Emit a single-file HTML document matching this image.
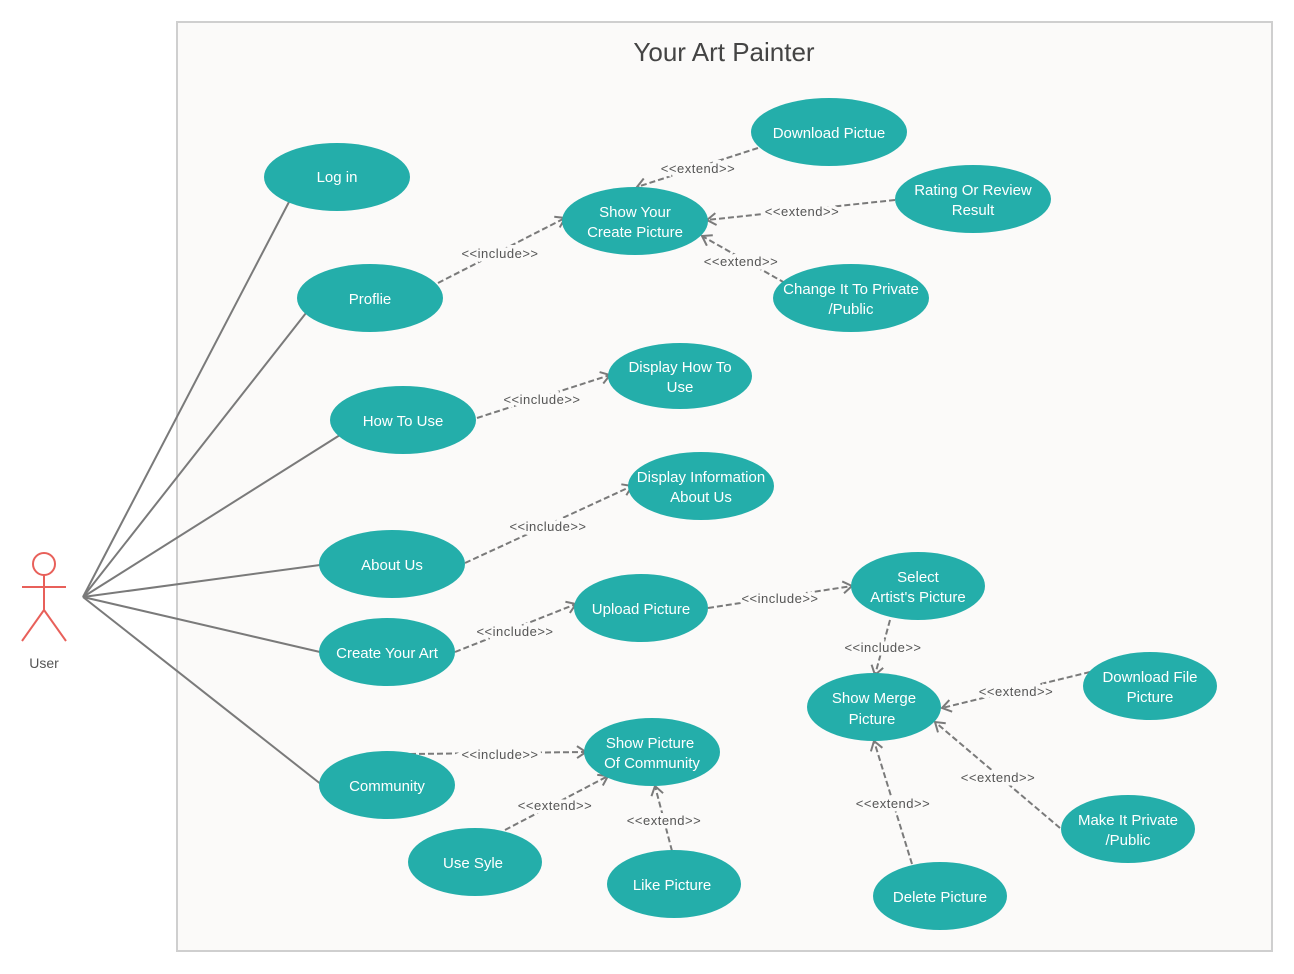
<!DOCTYPE html>
<html><head><meta charset="utf-8">
<style>
html,body{margin:0;padding:0;background:#fff;}
svg{display:block;font-family:"Liberation Sans",sans-serif;}
.uc ellipse{fill:#24aeaa;}
.uc text{fill:#fff;font-size:15px;text-anchor:middle;}
.lbl{font-size:13px;fill:#555;text-anchor:middle;paint-order:stroke;stroke:#fbfaf9;stroke-width:7px;letter-spacing:0.5px;}
.dash{stroke:#7a7a7a;stroke-width:2;stroke-dasharray:6,3;fill:none;}
.assoc{stroke:#7a7a7a;stroke-width:2;fill:none;}
</style></head>
<body>
<svg width="1294" height="974" viewBox="0 0 1294 974">
<defs>
<marker id="arr" markerWidth="14" markerHeight="14" refX="11" refY="7" orient="auto" markerUnits="userSpaceOnUse">
<polyline points="2,1 11,7 2,13" fill="none" stroke="#7a7a7a" stroke-width="2"/>
</marker>
</defs>
<rect x="177" y="22" width="1095" height="929" fill="#fbfaf9" stroke="#cfcfcf" stroke-width="2"/>
<text x="724" y="61" font-size="26" fill="#444" text-anchor="middle">Your Art Painter</text>

<g stroke="#e8605a" stroke-width="2" fill="none">
<circle cx="44" cy="564" r="11"/>
<line x1="44" y1="575" x2="44" y2="610"/>
<line x1="22" y1="587" x2="66" y2="587"/>
<line x1="44" y1="610" x2="22" y2="641"/>
<line x1="44" y1="610" x2="66" y2="641"/>
</g>
<text x="44" y="668" font-size="14" fill="#555" text-anchor="middle">User</text>

<g>
<line class="assoc" x1="83" y1="597" x2="290" y2="200"/>
<line class="assoc" x1="83" y1="597" x2="306" y2="313"/>
<line class="assoc" x1="83" y1="597" x2="340" y2="435"/>
<line class="assoc" x1="83" y1="597" x2="320" y2="565"/>
<line class="assoc" x1="83" y1="597" x2="320" y2="652"/>
<line class="assoc" x1="83" y1="597" x2="322" y2="785"/>
</g>

<g>
<line class="dash" x1="438" y1="283" x2="565" y2="218" marker-end="url(#arr)"/>
<line class="dash" x1="758" y1="148" x2="637" y2="187" marker-end="url(#arr)"/>
<line class="dash" x1="895" y1="200" x2="707" y2="220" marker-end="url(#arr)"/>
<line class="dash" x1="785" y1="283" x2="702" y2="236" marker-end="url(#arr)"/>
<line class="dash" x1="477" y1="418" x2="610" y2="375" marker-end="url(#arr)"/>
<line class="dash" x1="465" y1="563" x2="632" y2="486" marker-end="url(#arr)"/>
<line class="dash" x1="455" y1="652" x2="576" y2="604" marker-end="url(#arr)"/>
<line class="dash" x1="708" y1="608" x2="852" y2="586" marker-end="url(#arr)"/>
<line class="dash" x1="890" y1="620" x2="875" y2="675" marker-end="url(#arr)"/>
<line class="dash" x1="1090" y1="672" x2="942" y2="708" marker-end="url(#arr)"/>
<line class="dash" x1="1060" y1="828" x2="935" y2="722" marker-end="url(#arr)"/>
<line class="dash" x1="912" y1="864" x2="874" y2="741" marker-end="url(#arr)"/>
<line class="dash" x1="410" y1="754" x2="586" y2="752" marker-end="url(#arr)"/>
<line class="dash" x1="505" y1="830" x2="608" y2="776" marker-end="url(#arr)"/>
<line class="dash" x1="672" y1="851" x2="655" y2="786" marker-end="url(#arr)"/>
</g>
<g>
<text class="lbl" x="500" y="258">&lt;&lt;include&gt;&gt;</text>
<text class="lbl" x="698" y="173">&lt;&lt;extend&gt;&gt;</text>
<text class="lbl" x="802" y="216">&lt;&lt;extend&gt;&gt;</text>
<text class="lbl" x="741" y="266">&lt;&lt;extend&gt;&gt;</text>
<text class="lbl" x="542" y="404">&lt;&lt;include&gt;&gt;</text>
<text class="lbl" x="548" y="531">&lt;&lt;include&gt;&gt;</text>
<text class="lbl" x="515" y="636">&lt;&lt;include&gt;&gt;</text>
<text class="lbl" x="780" y="603">&lt;&lt;include&gt;&gt;</text>
<text class="lbl" x="883" y="652">&lt;&lt;include&gt;&gt;</text>
<text class="lbl" x="1016" y="696">&lt;&lt;extend&gt;&gt;</text>
<text class="lbl" x="998" y="782">&lt;&lt;extend&gt;&gt;</text>
<text class="lbl" x="893" y="808">&lt;&lt;extend&gt;&gt;</text>
<text class="lbl" x="500" y="759">&lt;&lt;include&gt;&gt;</text>
<text class="lbl" x="555" y="810">&lt;&lt;extend&gt;&gt;</text>
<text class="lbl" x="664" y="825">&lt;&lt;extend&gt;&gt;</text>
</g>

<g class="uc"><ellipse cx="337" cy="177" rx="73" ry="34"/><text x="337" y="182">Log in</text></g>
<g class="uc"><ellipse cx="370" cy="298" rx="73" ry="34"/><text x="370" y="304">Proflie</text></g>
<g class="uc"><ellipse cx="403" cy="420" rx="73" ry="34"/><text x="403" y="426">How To Use</text></g>
<g class="uc"><ellipse cx="392" cy="564" rx="73" ry="34"/><text x="392" y="570">About Us</text></g>
<g class="uc"><ellipse cx="387" cy="652" rx="68" ry="34"/><text x="387" y="658">Create Your Art</text></g>
<g class="uc"><ellipse cx="387" cy="785" rx="68" ry="34"/><text x="387" y="791">Community</text></g>
<g class="uc"><ellipse cx="635" cy="221" rx="73" ry="34"/><text x="635" y="217">Show Your</text><text x="635" y="237">Create Picture</text></g>
<g class="uc"><ellipse cx="829" cy="132" rx="78" ry="34"/><text x="829" y="138">Download Pictue</text></g>
<g class="uc"><ellipse cx="973" cy="199" rx="78" ry="34"/><text x="973" y="195">Rating Or Review</text><text x="973" y="215">Result</text></g>
<g class="uc"><ellipse cx="851" cy="298" rx="78" ry="34"/><text x="851" y="294">Change It To Private</text><text x="851" y="314">/Public</text></g>
<g class="uc"><ellipse cx="680" cy="376" rx="72" ry="33"/><text x="680" y="372">Display How To</text><text x="680" y="392">Use</text></g>
<g class="uc"><ellipse cx="701" cy="486" rx="73" ry="34"/><text x="701" y="482">Display Information</text><text x="701" y="502">About Us</text></g>
<g class="uc"><ellipse cx="641" cy="608" rx="67" ry="34"/><text x="641" y="614">Upload Picture</text></g>
<g class="uc"><ellipse cx="918" cy="586" rx="67" ry="34"/><text x="918" y="582">Select</text><text x="918" y="602">Artist's Picture</text></g>
<g class="uc"><ellipse cx="874" cy="707" rx="67" ry="34"/><text x="874" y="703">Show Merge</text><text x="872" y="724">Picture</text></g>
<g class="uc"><ellipse cx="1150" cy="686" rx="67" ry="34"/><text x="1150" y="682">Download File</text><text x="1150" y="702">Picture</text></g>
<g class="uc"><ellipse cx="1128" cy="829" rx="67" ry="34"/><text x="1128" y="825">Make It Private</text><text x="1128" y="845">/Public</text></g>
<g class="uc"><ellipse cx="940" cy="896" rx="67" ry="34"/><text x="940" y="902">Delete Picture</text></g>
<g class="uc"><ellipse cx="652" cy="752" rx="68" ry="34"/><text x="650" y="748">Show Picture</text><text x="652" y="768">Of Community</text></g>
<g class="uc"><ellipse cx="475" cy="862" rx="67" ry="34"/><text x="473" y="868">Use Syle</text></g>
<g class="uc"><ellipse cx="674" cy="884" rx="67" ry="34"/><text x="672" y="890">Like Picture</text></g>
</svg>
</body></html>
